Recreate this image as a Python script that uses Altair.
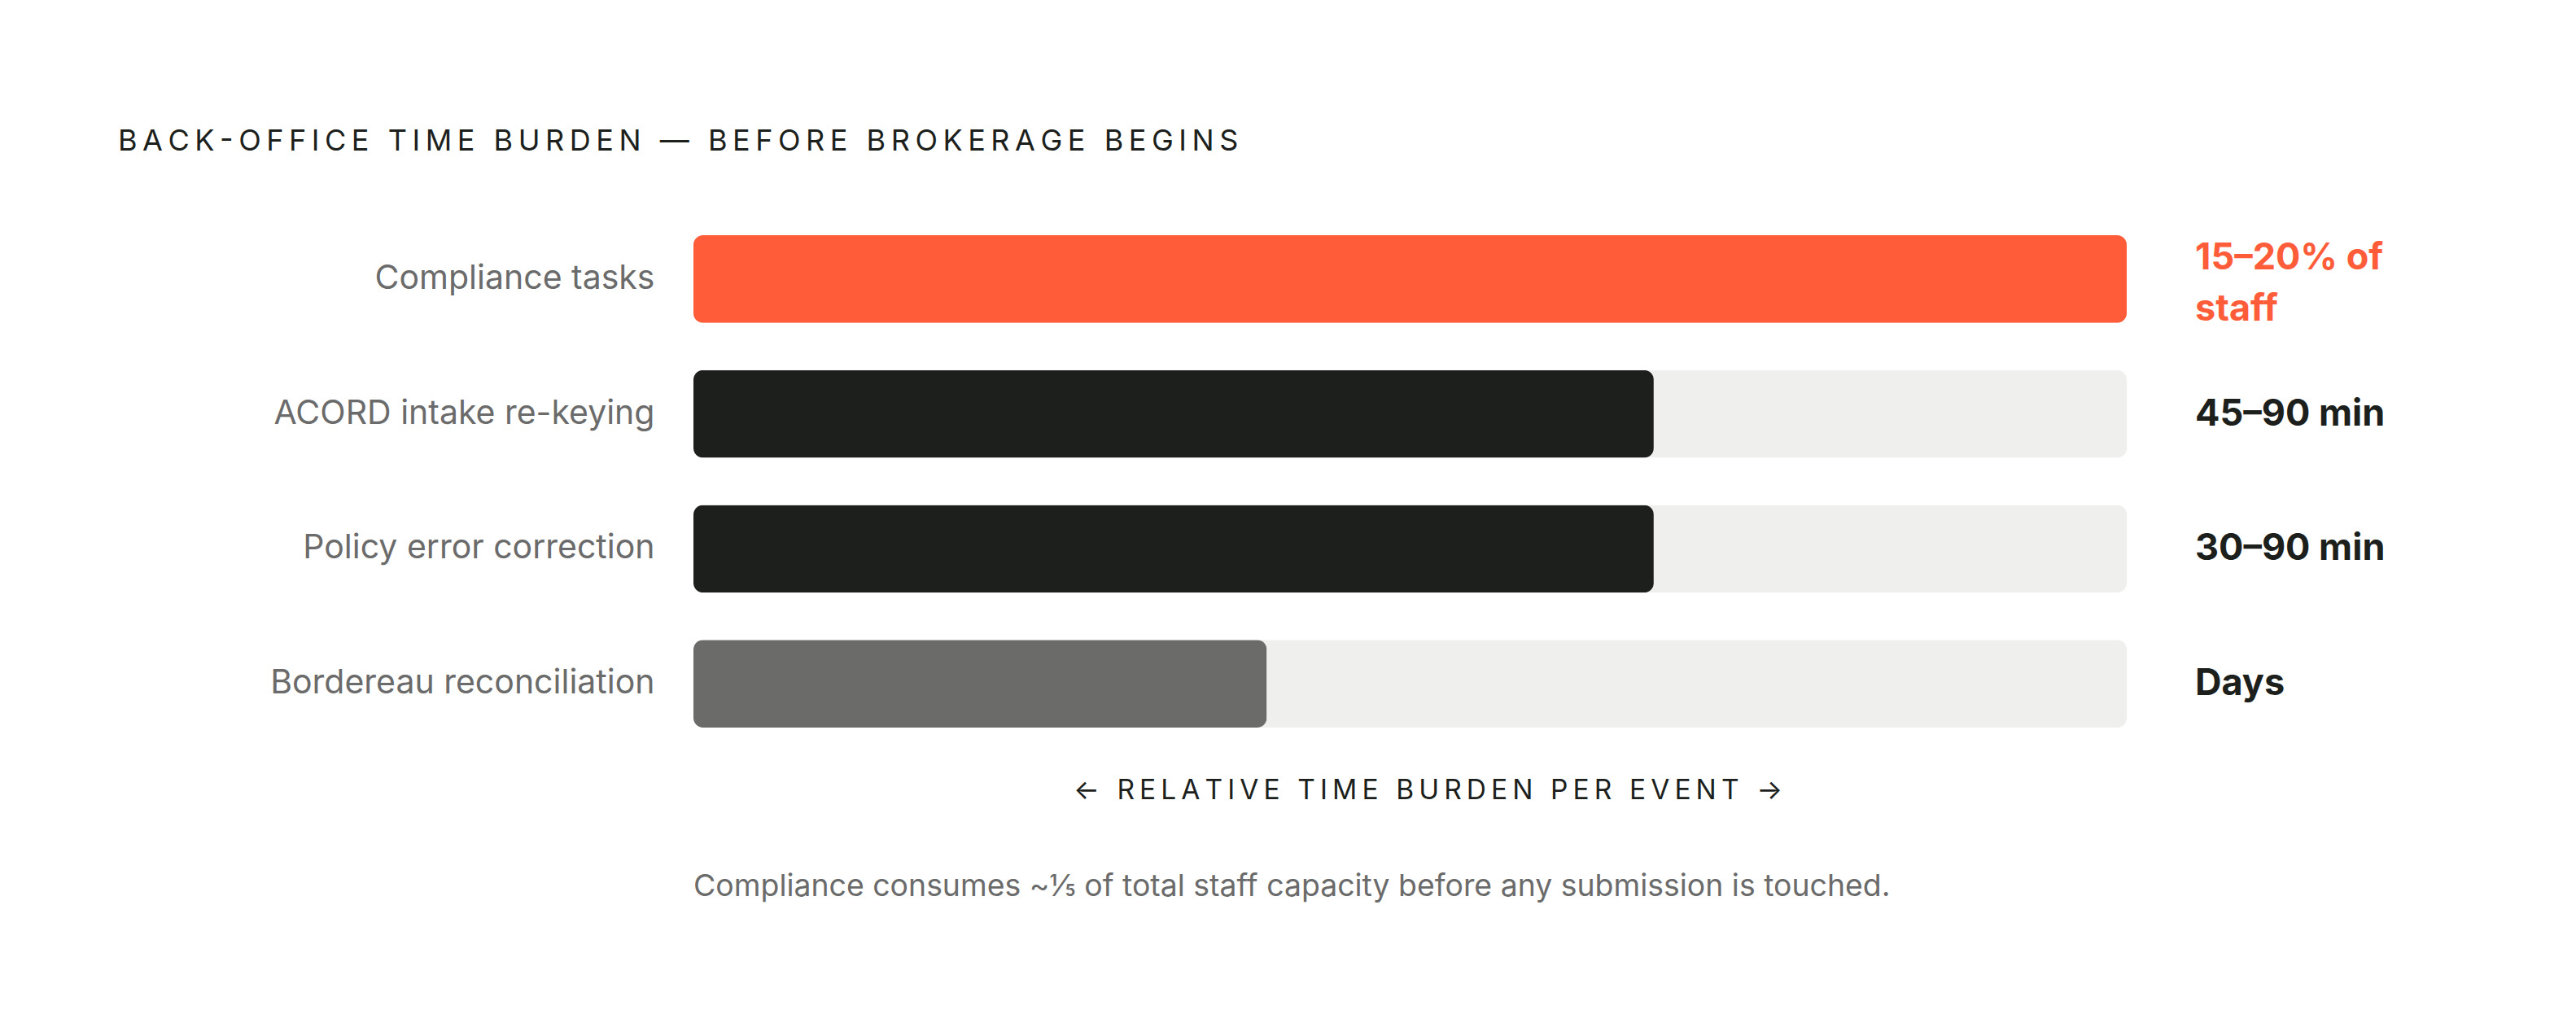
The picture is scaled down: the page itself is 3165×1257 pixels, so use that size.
import altair as alt
import pandas as pd

tasks = ["Compliance tasks", "ACORD intake re-keying", "Policy error correction", "Bordereau reconciliation"]
burden = [1.0, 0.67, 0.67, 0.40]
value_labels = ["15–20% of\nstaff", "45–90 min", "30–90 min", "Days"]
bar_colors = ["#FF5C39", "#1C1F1C", "#1C1F1C", "#6B6C6A"]
label_colors = ["#FF5C39", "#1C1F1C", "#1C1F1C", "#1C1F1C"]

title_text = "BACK-OFFICE TIME BURDEN — BEFORE BROKERAGE BEGINS"
axis_text = "← RELATIVE TIME BURDEN PER EVENT →"
note_text = "Compliance consumes ~⅕ of total staff capacity before any submission is touched."


def spaced(s, n=2):
    # hair spaces stand in for letter-spacing
    return ("\u200a" * n).join(s)


df = pd.DataFrame({
    "task": tasks,
    "burden": burden,
    "full": [1.0] * len(tasks),
    "label": value_labels,
    "bar_color": bar_colors,
    "label_color": label_colors,
})

W, H = 1761, 663

x_axis = alt.Axis(labels=False, ticks=False, domain=False, grid=False,
                  title=spaced(axis_text), titleFont="Inter", titleFontSize=33.5,
                  titleFontWeight="normal", titleColor="#1C1F1C",
                  titleX=902, titleY=48, titleBaseline="middle")
x_scale = alt.Scale(domain=[0, 1])

y = alt.Y("task:N", sort=tasks, title=None,
          scale=alt.Scale(paddingInner=0.35, paddingOuter=0.175),
          axis=alt.Axis(domain=False, ticks=False, grid=False, labelFont="Inter",
                        labelFontSize=41, labelColor="#6B6B6B", labelPadding=48,
                        labelLimit=0))

base = alt.Chart(df)

track = base.mark_bar(color="#EFEFED", cornerRadius=12).encode(
    x=alt.X("full:Q", scale=x_scale, axis=x_axis),
    y=y,
)

bars = base.mark_bar(cornerRadius=12).encode(
    x=alt.X("burden:Q", scale=x_scale, axis=x_axis),
    y=y,
    color=alt.Color("bar_color:N", scale=None),
)

label_style = dict(align="left", baseline="middle", dx=84, font="Inter",
                   fontSize=45, fontWeight="bold", lineBreak="\n", lineHeight=63)
label_enc = dict(
    x=alt.X("full:Q", scale=x_scale, axis=x_axis),
    y=y,
    text="label:N",
    color=alt.Color("label_color:N", scale=None),
)

# single-line value labels
labels = base.mark_text(**label_style).encode(**label_enc).transform_filter(
    "indexof(datum.label, '\\n') < 0"
)
# wrapped value labels, centred on the row
labels_wrapped = base.mark_text(dy=-25.5, **label_style).encode(**label_enc).transform_filter(
    "indexof(datum.label, '\\n') >= 0"
)

title = alt.Chart(pd.DataFrame({"t": [spaced(title_text)]})).mark_text(
    align="left", baseline="middle", font="Inter", fontSize=36, color="#1C1F1C"
).encode(x=alt.value(-707), y=alt.value(-86), text="t:N")

note = alt.Chart(pd.DataFrame({"t": [note_text]})).mark_text(
    align="left", baseline="middle", font="Inter", fontSize=37.4, color="#6B6B6B"
).encode(x=alt.value(0), y=alt.value(830), text="t:N")

chart = alt.layer(track, bars, labels, labels_wrapped, title, note).properties(
    width=W,
    height=H,
    autosize=alt.AutoSizeParams(type="none"),
    padding={"left": 844, "top": 252, "right": 520, "bottom": 300},
).configure_view(stroke=None)

chart.save("out.html", embed_options={"renderer": "svg", "actions": False})
